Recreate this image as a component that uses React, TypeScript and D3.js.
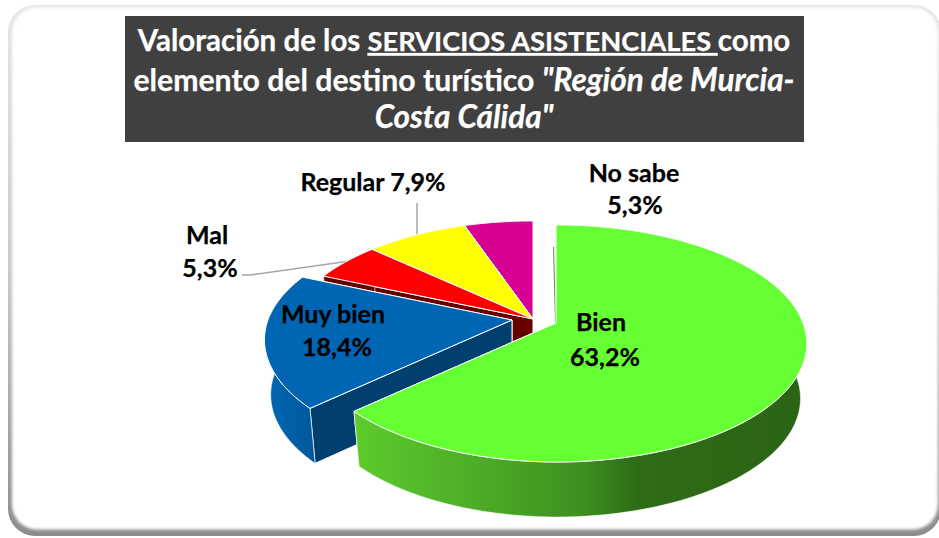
import * as d3 from 'd3';

const categories = ['Bien', 'Muy bien', 'Mal', 'Regular', 'No sabe'];
const values = [63.2, 18.4, 5.3, 7.9, 5.3];
const topColors = ['#66ff33', '#0066b3', '#ff0000', '#ffff00', '#d60093'];
const wallColors = ['url(#greenWall)', 'url(#blueWall)', '#660000', '#8a8a00', '#80005a'];
const edgeColors = ['#2f7018', '#003f6e', '#660000', '#8a8a00', '#80005a'];

// where each wedge's tip sits once it has been pulled out of the pie
const tips: [number, number][] = [[556, 323], [512, 320], [533, 319], [533, 319], [533, 319]];

const titleLines = [
  [{ t: 'Valoración de los ', s: 29.5 }, { t: 'SERVICIOS ASISTENCIALES ', u: true, s: 27.3 }, { t: 'como', s: 29.5 }],
  [{ t: 'elemento del destino turístico ', s: 30.2 }, { t: '"Región de Murcia-', i: true, s: 31.5 }],
  [{ t: 'Costa Cálida"', i: true, s: 31.5 }],
];
const titleBaselines = [51, 91, 128];

const labelSpots: { x: number; y: number; text: (n: string, v: string) => string }[] = [
  { x: 601, y: 331, text: n => n },
  { x: 605, y: 366, text: (_, v) => v },
  { x: 333, y: 323, text: n => n },
  { x: 337, y: 356, text: (_, v) => v },
  { x: 207, y: 244, text: n => n },
  { x: 210, y: 277, text: (_, v) => v },
  { x: 373, y: 191, text: (n, v) => `${n} ${v}` },
  { x: 634, y: 182, text: n => n },
  { x: 635, y: 214, text: (_, v) => v },
];
const labelOwner = [0, 0, 1, 1, 2, 2, 3, 4, 4];

const RX = 247;
const RY = 115;
const TILT = 0.173;
const DEPTH = 55;
const BASE_SCALE = 0.975;

const fmt = (v: number) => `${v.toFixed(1).replace('.', ',')}%`;

function project(tip: [number, number], a: number, r = 1, base = false): [number, number] {
  const u = r * Math.sin(a);
  const v = r * Math.cos(a);
  const p = 1 / (1 + TILT * v);
  const s = base ? BASE_SCALE : 1;
  // the original pie's viewpoint is a bit off centre, the left and near side come in slightly
  const left = u < 0 ? 0.988 : 1;
  const lean = v < 0 && u < 0 ? -1.5 * v * p : 0;
  return [tip[0] + RX * u * p * s * left + lean, tip[1] + (base ? DEPTH : 0) - RY * v * p];
}

const line = d3.line();

function arcPoints(tip: [number, number], a0: number, a1: number, base = false) {
  const n = Math.max(2, Math.ceil(Math.abs(a1 - a0) / 0.02));
  return d3.range(n + 1).map(i => project(tip, a0 + (a1 - a0) * i / n, 1, base));
}

export default function App() {
  const arcs = d3.pie<number>().sort(null)(values);
  // far wedges first, the big green one last
  const order = [4, 3, 2, 1, 0];

  return (
    <svg width={939} height={538} style={{ position: 'absolute', left: 0, top: 0, background: '#fff' }}
      fontFamily="Lato, Carlito, sans-serif">
      <defs>
        <linearGradient id="frameGrad" x1="0" y1="0" x2="0" y2="1">
          <stop offset="0" stopColor="#e6e6e6" />
          <stop offset="0.5" stopColor="#c8c8c8" />
          <stop offset="1" stopColor="#8c8c8c" />
        </linearGradient>
        <filter id="soft" x="-5%" y="-5%" width="110%" height="110%">
          <feGaussianBlur stdDeviation="1.6" />
        </filter>
        <filter id="softer" x="-5%" y="-5%" width="110%" height="110%">
          <feGaussianBlur stdDeviation="0.7" />
        </filter>
        <linearGradient id="greenWall" gradientUnits="userSpaceOnUse" x1="355" y1="0" x2="810" y2="0">
          <stop offset="0" stopColor="#5ccb2c" />
          <stop offset="0.3" stopColor="#4aa926" />
          <stop offset="0.5" stopColor="#3e8f20" />
          <stop offset="0.62" stopColor="#2f6c17" />
          <stop offset="1" stopColor="#2a6315" />
        </linearGradient>
        <linearGradient id="blueWall" gradientUnits="userSpaceOnUse" x1="265" y1="0" x2="315" y2="0">
          <stop offset="0" stopColor="#0068b5" />
          <stop offset="1" stopColor="#00589a" />
        </linearGradient>
      </defs>

      <rect x={8} y={5} width={933} height={531} rx={27} fill="url(#frameGrad)" filter="url(#softer)" />
      <rect x={12} y={7.5} width={926} height={522} rx={25} fill="#fff" filter="url(#soft)" />

      <rect x={125} y={16} width={679} height={126} fill="#404040" />
      {titleLines.map((parts, i) => (
        <text key={i} x={464} y={titleBaselines[i]} textAnchor="middle" fill="#fff" stroke="#fff" strokeWidth={0.25}
          fontWeight={700}>
          {parts.map((p: any, j) => (
            <tspan key={j} fontSize={p.s} fontStyle={p.i ? 'italic' : 'normal'} textDecoration={p.u ? 'underline' : 'none'}
              style={{ whiteSpace: 'pre' }}>{p.t}</tspan>
          ))}
        </text>
      ))}

      {/* leader lines */}
      <polyline points="242,275 250,275 350,261" fill="none" stroke="#a6a6a6" strokeWidth={1.5} />
      <line x1={417} y1={203} x2={417} y2={238} stroke="#a6a6a6" strokeWidth={1.5} />

      {order.map(i => {
        const a = arcs[i];
        const tip = tips[i];
        const baseTip: [number, number] = project(tip, 0, 0, true);
        const top0 = project(tip, a.startAngle);
        const top1 = project(tip, a.endAngle);
        const bot0 = project(tip, a.startAngle, 1, true);
        const bot1 = project(tip, a.endAngle, 1, true);
        const outer = [...arcPoints(tip, a.startAngle, a.endAngle),
          ...arcPoints(tip, a.endAngle, a.startAngle, true)];
        const face = [tip, ...arcPoints(tip, a.startAngle, a.endAngle)];
        return (
          <g key={categories[i]} stroke="#fff" strokeWidth={1} strokeLinejoin="round">
            <path d={`${line([tip, top1, bot1, baseTip])}Z`} fill={edgeColors[i]} />
            <path d={`${line([tip, top0, bot0, baseTip])}Z`} fill={edgeColors[i]} />
            <path d={`${line(outer)}Z`} fill={wallColors[i]} strokeWidth={0.6} />
            {i === 0 && <line x1={553.5} y1={247} x2={555.5} y2={323} stroke="#5f8a4a" strokeWidth={1} />}
            <path d={`${line(face)}Z`} fill={topColors[i]} />
          </g>
        );
      })}

      {labelSpots.map((l, k) => {
        const i = labelOwner[k];
        return (
          <text key={k} x={l.x} y={l.y} textAnchor="middle" fill="#000" stroke="#000" strokeWidth={0.25}
            fontWeight={700} fontSize={25}>
            {l.text(categories[i], fmt(values[i]))}
          </text>
        );
      })}
    </svg>
  );
}
